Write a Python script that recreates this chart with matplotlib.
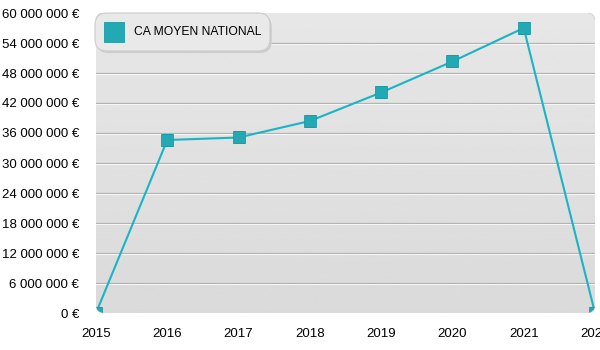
import numpy as np
import matplotlib
matplotlib.use("Agg")
from matplotlib import pyplot as plt
from matplotlib.patches import FancyBboxPatch
from matplotlib.lines import Line2D

plt.rcParams['font.family'] = ['Liberation Sans', 'DejaVu Sans']

# CA moyen national par année
annees = [2015, 2016, 2017, 2018, 2019, 2020, 2021, 2022]
ca_moyen = [0, 34600000, 35100000, 38400000, 44100000, 50300000, 57000000, 0]
y_ticks = [0, 6000000, 12000000, 18000000, 24000000, 30000000,
           36000000, 42000000, 48000000, 54000000, 60000000]
serie_label = "CA MOYEN NATIONAL"

line_col = "#1ab4c6"
marker_col = "#22a9b4"


def euro(v):
    return "{:,}".format(int(v)).replace(",", " ") + " €"


fig = plt.figure(figsize=(6, 3.5), dpi=100)
ax = fig.add_axes([96 / 600, 37 / 350, 499 / 600, 300 / 350])
ax.set_xlim(annees[0], annees[-1])
ax.set_ylim(0, 60000000)
for s in ax.spines.values():
    s.set_visible(False)
ax.patch.set_visible(False)

# rounded plot background with a soft vertical gradient
bg = FancyBboxPatch((0, 0), 1, 1, boxstyle="round,pad=0,rounding_size=0.018",
                    transform=ax.transAxes, facecolor="none",
                    edgecolor="#bdbdbd", linewidth=0.8, zorder=0,
                    mutation_aspect=499 / 300)
ax.add_patch(bg)
grad = np.linspace(0.855, 0.905, 256).reshape(-1, 1)
img = ax.imshow(grad, cmap="gray", vmin=0, vmax=1, aspect="auto",
                extent=[annees[0], annees[-1], 0, 60000000],
                origin="lower", zorder=0.5)
img.set_clip_path(bg)

# embossed grid lines
for t in y_ticks[1:-1]:
    ax.axhline(t, color="#b0b0b0", lw=0.9, zorder=1)
    ax.axhline(t - 200000, color="#f6f6f6", lw=0.8, zorder=1)

ln, = ax.plot(annees, ca_moyen, color=line_col, lw=1.5, zorder=3,
              marker="s", markersize=8.5, markerfacecolor=marker_col,
              markeredgecolor="#1f9aa5", markeredgewidth=0.6)
ln.set_clip_path(bg)

ax.set_yticks(y_ticks)
ax.set_yticklabels([euro(v) for v in y_ticks])
ax.set_xticks(annees)
ax.set_xticklabels([str(a) for a in annees])
ax.tick_params(length=0, labelsize=9.5, colors="black")
ax.tick_params(axis="y", pad=12)
ax.tick_params(axis="x", pad=11)

# legend box
lx0, ly0 = 95 / 600, 1 - 51 / 350
lw, lh = 175 / 600, 38 / 350
shadow = FancyBboxPatch((lx0 + 0.003, ly0 - 0.006), lw, lh,
                        boxstyle="round,pad=0,rounding_size=0.02",
                        transform=fig.transFigure, facecolor="#cdcdcd",
                        edgecolor="none", zorder=4, mutation_aspect=600 / 350)
fig.patches.append(shadow)
box = FancyBboxPatch((lx0, ly0), lw, lh,
                     boxstyle="round,pad=0,rounding_size=0.02",
                     transform=fig.transFigure, facecolor="#e9e9e9",
                     edgecolor="#cccccc", linewidth=0.8, zorder=5,
                     mutation_aspect=600 / 350)
fig.patches.append(box)
fig.lines.append(Line2D([114 / 600], [1 - 32 / 350], transform=fig.transFigure,
                        marker="s", markersize=14, markerfacecolor=marker_col,
                        markeredgecolor="#1f9aa5", markeredgewidth=0.6,
                        zorder=6))
fig.text(134 / 600, 1 - 32 / 350, serie_label, fontsize=8.7,
         va="center", ha="left", zorder=6)

fig.savefig("out.png", dpi=100)
